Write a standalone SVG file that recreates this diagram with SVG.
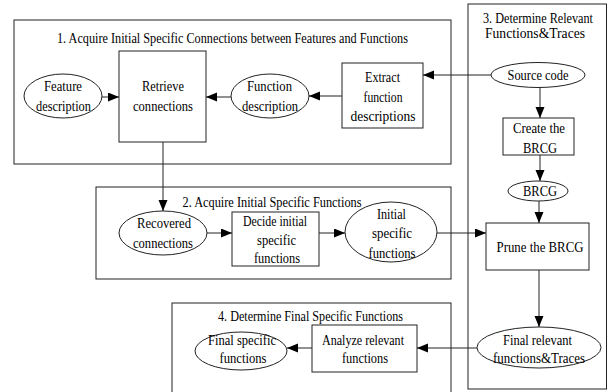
<svg xmlns="http://www.w3.org/2000/svg" width="608" height="392" viewBox="0 0 608 392">
<style>
  .box { fill: none; stroke: #222; stroke-width: 1; }
  .node { fill: #fff; stroke: #222; stroke-width: 1; }
  .edge { fill: none; stroke: #222; stroke-width: 1; }
  text { font-family: "Liberation Serif", "Times New Roman", serif; font-size: 15px; fill: #000; text-anchor: middle; }
</style>
<defs>
  <marker id="arrow" markerUnits="userSpaceOnUse" markerWidth="12" markerHeight="10" refX="11" refY="4.5" orient="auto">
    <path d="M0,0 L11,4.5 L0,9 z" fill="#000"/>
  </marker>
</defs>
<rect width="608" height="392" fill="#fff"/>

<g font-family="Liberation Serif, serif">
<g id="group1">
  <rect class="box" x="14" y="20" width="437" height="144"/>
  <text x="232.5" y="43" textLength="351" lengthAdjust="spacingAndGlyphs">1. Acquire Initial Specific Connections between Features and Functions</text>
</g>
<g id="group2">
  <rect class="box" x="96" y="187" width="355" height="92"/>
  <text x="272" y="207" textLength="179" lengthAdjust="spacingAndGlyphs">2. Acquire Initial Specific Functions</text>
</g>
<g id="group3">
  <rect class="box" x="468" y="4" width="138.5" height="385"/>
  <text x="538" y="23" textLength="110" lengthAdjust="spacingAndGlyphs">3. Determine Relevant</text>
  <text x="535" y="38" textLength="100" lengthAdjust="spacingAndGlyphs">Functions&amp;Traces</text>
</g>
<g id="group4">
  <rect class="box" x="172" y="303" width="279" height="100"/>
  <text x="310.5" y="320.5" textLength="185" lengthAdjust="spacingAndGlyphs">4. Determine Final Specific Functions</text>
</g>

<g id="feature-description">
  <ellipse class="node" cx="63" cy="96" rx="39" ry="22"/>
  <text x="63" y="91" textLength="38" lengthAdjust="spacingAndGlyphs">Feature</text>
  <text x="63.5" y="110.5" textLength="55" lengthAdjust="spacingAndGlyphs">description</text>
</g>
<g id="retrieve-connections">
  <rect class="node" x="119" y="51" width="87" height="91"/>
  <text x="163" y="91" textLength="42" lengthAdjust="spacingAndGlyphs">Retrieve</text>
  <text x="163" y="110.5" textLength="60" lengthAdjust="spacingAndGlyphs">connections</text>
</g>
<g id="function-description">
  <ellipse class="node" cx="270" cy="96" rx="39" ry="22"/>
  <text x="269.5" y="91" textLength="45" lengthAdjust="spacingAndGlyphs">Function</text>
  <text x="270" y="110.5" textLength="56" lengthAdjust="spacingAndGlyphs">description</text>
</g>
<g id="extract-function-descriptions">
  <rect class="node" x="342" y="63" width="81" height="65"/>
  <text x="382.5" y="82" textLength="35" lengthAdjust="spacingAndGlyphs">Extract</text>
  <text x="383" y="102" textLength="39" lengthAdjust="spacingAndGlyphs">function</text>
  <text x="383" y="121" textLength="65" lengthAdjust="spacingAndGlyphs">descriptions</text>
</g>
<g id="source-code">
  <ellipse class="node" cx="538" cy="75" rx="47" ry="12.5"/>
  <text x="538" y="80" textLength="61" lengthAdjust="spacingAndGlyphs">Source code</text>
</g>
<g id="create-brcg">
  <rect class="node" x="503" y="118" width="71" height="37"/>
  <text x="539" y="133" textLength="52" lengthAdjust="spacingAndGlyphs">Create the</text>
  <text x="540" y="152.5" textLength="34" lengthAdjust="spacingAndGlyphs">BRCG</text>
</g>
<g id="brcg">
  <ellipse class="node" cx="538" cy="191" rx="30" ry="10"/>
  <text x="540" y="196" textLength="34" lengthAdjust="spacingAndGlyphs">BRCG</text>
</g>
<g id="prune-brcg">
  <rect class="node" x="486" y="223" width="103" height="47"/>
  <text x="540" y="252" textLength="87" lengthAdjust="spacingAndGlyphs">Prune the BRCG</text>
</g>
<g id="final-relevant">
  <ellipse class="node" cx="539" cy="347.5" rx="62" ry="20.5"/>
  <text x="537.5" y="345" textLength="69" lengthAdjust="spacingAndGlyphs">Final relevant</text>
  <text x="539" y="363" textLength="92" lengthAdjust="spacingAndGlyphs">functions&amp;Traces</text>
</g>
<g id="recovered-connections">
  <ellipse class="node" cx="163" cy="233" rx="44" ry="22"/>
  <text x="164" y="228" textLength="54" lengthAdjust="spacingAndGlyphs">Recovered</text>
  <text x="163" y="248" textLength="60" lengthAdjust="spacingAndGlyphs">connections</text>
</g>
<g id="decide-initial">
  <rect class="node" x="232" y="212" width="87" height="54"/>
  <text x="275" y="225.5" textLength="64" lengthAdjust="spacingAndGlyphs">Decide initial</text>
  <text x="276.5" y="244.5" textLength="39" lengthAdjust="spacingAndGlyphs">specific</text>
  <text x="277" y="262.5" textLength="46" lengthAdjust="spacingAndGlyphs">functions</text>
</g>
<g id="initial-specific">
  <ellipse class="node" cx="391" cy="232" rx="46" ry="30"/>
  <text x="391.5" y="218.5" textLength="29" lengthAdjust="spacingAndGlyphs">Initial</text>
  <text x="392" y="238" textLength="40" lengthAdjust="spacingAndGlyphs">specific</text>
  <text x="392" y="258" textLength="47" lengthAdjust="spacingAndGlyphs">functions</text>
</g>
<g id="analyze-relevant">
  <rect class="node" x="312" y="325" width="105" height="47"/>
  <text x="363" y="345" textLength="82" lengthAdjust="spacingAndGlyphs">Analyze relevant</text>
  <text x="365" y="363" textLength="46" lengthAdjust="spacingAndGlyphs">functions</text>
</g>
<g id="final-specific">
  <ellipse class="node" cx="241" cy="351" rx="46" ry="19"/>
  <text x="242" y="345" textLength="68" lengthAdjust="spacingAndGlyphs">Final specific</text>
  <text x="243" y="363" textLength="47" lengthAdjust="spacingAndGlyphs">functions</text>
</g>
</g>

<g id="connectors">
  <line class="edge" x1="102" y1="97" x2="119" y2="97" marker-end="url(#arrow)"/>
  <line class="edge" x1="231" y1="97" x2="206" y2="97" marker-end="url(#arrow)"/>
  <line class="edge" x1="342" y1="96" x2="309" y2="96" marker-end="url(#arrow)"/>
  <line class="edge" x1="491" y1="75" x2="423" y2="75" marker-end="url(#arrow)"/>
  <line class="edge" x1="540" y1="87.5" x2="540" y2="118" marker-end="url(#arrow)"/>
  <line class="edge" x1="540" y1="155" x2="540" y2="181" marker-end="url(#arrow)"/>
  <line class="edge" x1="539" y1="201" x2="539" y2="223" marker-end="url(#arrow)"/>
  <line class="edge" x1="539" y1="270" x2="539" y2="327" marker-end="url(#arrow)"/>
  <line class="edge" x1="163" y1="142" x2="163" y2="211" marker-end="url(#arrow)"/>
  <line class="edge" x1="207" y1="233" x2="232" y2="233" marker-end="url(#arrow)"/>
  <line class="edge" x1="319" y1="233" x2="345" y2="233" marker-end="url(#arrow)"/>
  <line class="edge" x1="437" y1="233" x2="486" y2="233" marker-end="url(#arrow)"/>
  <line class="edge" x1="477" y1="348" x2="417" y2="348" marker-end="url(#arrow)"/>
  <line class="edge" x1="312" y1="348" x2="287" y2="348" marker-end="url(#arrow)"/>
</g>
</svg>
